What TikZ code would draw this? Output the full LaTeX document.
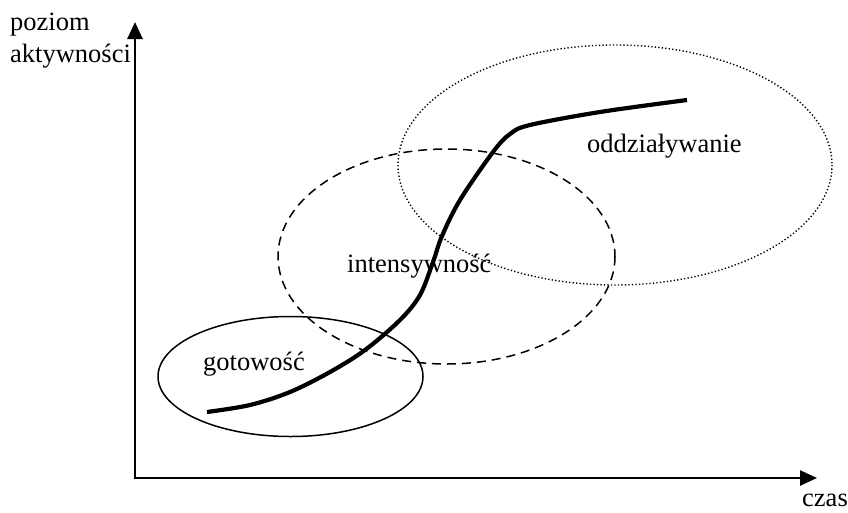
\documentclass[tikz,border=0pt]{standalone}
\usepackage{fontspec}
\setmainfont{Liberation Serif}
\usetikzlibrary{arrows.meta}
\begin{document}
\begin{tikzpicture}[x=1pt,y=-1pt,
  axis/.style={line width=2.6pt,-{Triangle[length=17pt,width=15pt]}},
  lbl/.style={anchor=base west,inner sep=0pt,font=\fontsize{26.5}{30}\selectfont},
  zone/.style={line width=1.5pt},
  curvestyle/.style={line width=4.2pt}]
\useasboundingbox (0,0) rectangle (848,512);
% axes
\coordinate (O) at (135,478);
\coordinate (ytip) at (135,22);
\coordinate (xtip) at (817,478);
\draw[axis] ([yshift=-1.3pt]O) -- (ytip);
\draw[axis] ([xshift=-1.3pt]O) -- (xtip);
% ellipses
\draw[zone] (290.5,376.5) ellipse [x radius=132.5, y radius=60];
\draw[zone,dash pattern=on 9pt off 6pt] (446.5,256.5) ellipse [x radius=168.5, y radius=107.5];
\draw[line width=1.4pt,dash pattern=on 1.3pt off 2.2pt] (615,165) ellipse [x radius=217, y radius=120];
% curve
\draw[curvestyle] plot[smooth,tension=0.55] coordinates {(207,412) (250,405) (290,392) (330,372) (365,350) (400,320) (420,295) (433,262) (442,236) (460,200) (493,152) (510,134) (530,125) (600,112) (687,100)};
% labels
\node[lbl] (ylab1) at (10,30) {poziom};
\node[lbl] (ylab2) at (10,62) {aktywności};
\node[lbl] (xlab) at (802,506) {czas};
\node[lbl] (g) at (203,370) {gotowość};
\node[lbl] (i) at (347,272) {intensywność};
\node[lbl] (o) at (587,152) {oddziaływanie};
\end{tikzpicture}
\end{document}
